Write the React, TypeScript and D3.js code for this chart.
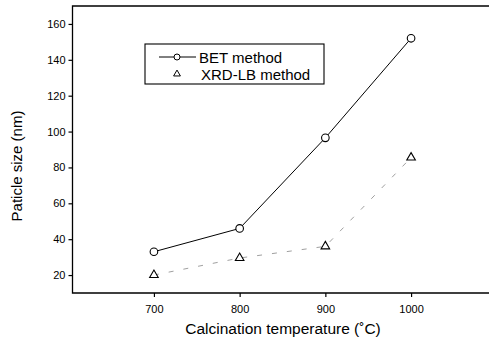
import React, { useEffect, useRef } from "react";
import * as d3 from "d3";

const temps = [700, 800, 900, 1000];
const betSizes = [33, 46, 96.5, 152];
const xrdSizes = [20, 29.5, 36, 85.5];
const xTicks = [700, 800, 900, 1000];
const yTicks = [20, 40, 60, 80, 100, 120, 140, 160];

export default function App() {
    const svgRef = useRef<SVGSVGElement | null>(null);

    useEffect(() => {
        const svg = d3.select(svgRef.current);
        svg.selectAll("*").remove();

        const width = 489;
        const left = 72.5;
        const top = 6;
        const bottom = 293;
        const font = "'Liberation Sans', Arial, sans-serif";

        const x = d3.scaleLinear().domain([605, 1095]).range([left, 492.5]);
        const y = d3.scaleLinear().domain([10, 170]).range([bottom, top]);

        // frame: top and bottom run off the right edge, no right border visible
        svg.append("path")
            .attr("d", `M${width + 5},${top}H${left}V${bottom}H${width + 5}`)
            .attr("fill", "none")
            .attr("stroke", "#000")
            .attr("stroke-width", 1.3);

        // === X axis ===
        const gx = svg.append("g")
            .attr("transform", `translate(0,${bottom})`)
            .call(d3.axisBottom(x).tickValues(xTicks).tickSize(4).tickPadding(8).tickFormat(d3.format("d")));
        gx.select(".domain").remove();
        gx.selectAll(".tick line").attr("stroke", "#000").attr("stroke-width", 1.2);
        gx.selectAll("text").attr("font-family", font).attr("font-size", 11).attr("fill", "#000");

        // === Y axis ===
        const gy = svg.append("g")
            .attr("transform", `translate(${left},0)`)
            .call(d3.axisLeft(y).tickValues(yTicks).tickSize(4).tickPadding(3));
        gy.select(".domain").remove();
        gy.selectAll(".tick line").attr("stroke", "#000").attr("stroke-width", 1.2);
        gy.selectAll("text").attr("font-family", font).attr("font-size", 11).attr("fill", "#000");

        // === labels ===
        svg.append("text")
            .attr("x", 283)
            .attr("y", 334)
            .attr("text-anchor", "middle")
            .attr("font-family", font)
            .attr("font-size", 15.5)
            .text("Calcination temperature (˚C)");

        svg.append("text")
            .attr("transform", "rotate(-90)")
            .attr("x", -166)
            .attr("y", 22)
            .attr("text-anchor", "middle")
            .attr("font-family", font)
            .attr("font-size", 15)
            .text("Paticle size (nm)");

        // === XRD line, faint and broken like the scan ===
        const xrdPts = temps.map((t, i) => [x(t), y(xrdSizes[i])] as [number, number]);
        svg.append("path")
            .datum(xrdPts)
            .attr("d", d3.line())
            .attr("fill", "none")
            .attr("stroke", "#666")
            .attr("stroke-width", 0.9)
            .attr("stroke-dasharray", "5 10")
            .attr("opacity", 0.7);

        // === BET line ===
        const betPts = temps.map((t, i) => [x(t), y(betSizes[i])] as [number, number]);
        svg.append("path")
            .datum(betPts)
            .attr("d", d3.line())
            .attr("fill", "none")
            .attr("stroke", "#000")
            .attr("stroke-width", 1);

        svg.append("g")
            .selectAll("circle")
            .data(betPts)
            .enter()
            .append("circle")
            .attr("cx", d => d[0])
            .attr("cy", d => d[1])
            .attr("r", 3.8)
            .attr("fill", "#fff")
            .attr("stroke", "#000")
            .attr("stroke-width", 1.1);

        const tri = d3.symbol().type(d3.symbolTriangle).size(32);
        svg.append("g")
            .selectAll("path")
            .data(xrdPts)
            .enter()
            .append("path")
            .attr("transform", d => `translate(${d[0]},${d[1]})`)
            .attr("d", tri)
            .attr("fill", "#fff")
            .attr("stroke", "#000")
            .attr("stroke-width", 1.1);

        // === Legend ===
        const lg = svg.append("g");
        lg.append("rect")
            .attr("x", 145)
            .attr("y", 44)
            .attr("width", 179)
            .attr("height", 40)
            .attr("fill", "#fff")
            .attr("stroke", "#000")
            .attr("stroke-width", 1.1);
        lg.append("line")
            .attr("x1", 159).attr("x2", 196)
            .attr("y1", 57).attr("y2", 57)
            .attr("stroke", "#000");
        lg.append("circle")
            .attr("cx", 177).attr("cy", 57).attr("r", 3)
            .attr("fill", "#fff").attr("stroke", "#000");
        lg.append("text")
            .attr("x", 199).attr("y", 62.5)
            .attr("font-family", font).attr("font-size", 15)
            .text("BET method");
        lg.append("path")
            .attr("transform", "translate(177,74)")
            .attr("d", d3.symbol().type(d3.symbolTriangle).size(20))
            .attr("fill", "#fff").attr("stroke", "#000");
        lg.append("text")
            .attr("x", 201).attr("y", 80)
            .attr("font-family", font).attr("font-size", 15)
            .text("XRD-LB method");
    }, []);

    return (
        <svg
            ref={svgRef}
            width={489}
            height={347}
            style={{ position: "absolute", left: 0, top: 0, background: "#fff" }}
        />
    );
}
